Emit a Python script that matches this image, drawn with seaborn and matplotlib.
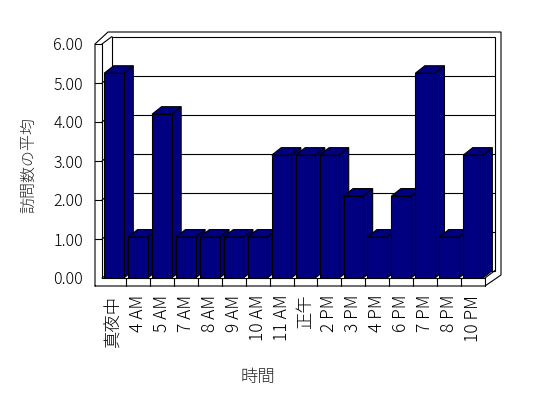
import matplotlib
matplotlib.use("Agg")
import matplotlib.pyplot as plt
import pandas as pd
import seaborn as sns
from matplotlib.patches import Polygon

# data
hours = ["真夜中", "4 AM", "5 AM", "7 AM", "8 AM", "9 AM", "10 AM", "11 AM",
         "正午", "2 PM", "3 PM", "4 PM", "6 PM", "7 PM", "8 PM", "10 PM"]
avg_visits = [5.25, 1.05, 4.2, 1.05, 1.05, 1.05, 1.05, 3.15,
              3.15, 3.15, 2.1, 1.05, 2.1, 5.25, 1.05, 3.15]
y_ticks = [0, 1, 2, 3, 4, 5, 6]

sns.set_theme(style="white")
plt.rcParams["font.family"] = ["Noto Sans CJK JP", "DejaVu Sans"]

NAVY = "#000080"
LW = 0.8
W, H = 548, 398

fig = plt.figure(figsize=(W / 100, H / 100), dpi=100)
fig.patch.set_facecolor("white")

# front plane of the 3d box, in pixels (top-left origin)
left, right, top, bottom = 102, 485, 44, 278
ax = fig.add_axes([left / W, 1 - bottom / H, (right - left) / W, (bottom - top) / H])

df = pd.DataFrame({"時間": hours, "訪問数の平均": avg_visits})
sns.barplot(data=df, x="時間", y="訪問数の平均", color=NAVY, saturation=1,
            edgecolor="black", linewidth=LW, width=0.82, ax=ax)

n = len(hours)
ymax = y_ticks[-1]
ax.set_xlim(-0.5, n - 0.5)
ax.set_ylim(0, ymax)
for s in ax.spines.values():
    s.set_visible(False)
ax.set_facecolor("none")

# pixel -> data helpers
ux = n / (right - left)
uy = ymax / (bottom - top)


def P(px, py):
    return (-0.5 + (px - left) * ux, (bottom - py) * uy)


dx, dy = 10 * ux, 7.5 * uy      # depth of the box
wall = 7 * ux                    # left wall thickness
floor = 8 * uy                   # floor thickness


def line(pts, z=1):
    xs, ys = zip(*pts)
    ax.plot(xs, ys, color="black", lw=LW, clip_on=False, zorder=z,
            solid_joinstyle="miter")


# box outline
outer = [(95, 286), (95, 44), (108, 32), (501, 32), (501, 275), (485, 286), (95, 286)]
line([P(*p) for p in outer], z=0.5)
line([P(95, 44), P(102, 44)])
line([P(102, 44), P(102, 278)])
line([(-0.5, ymax), (-0.5 + dx, ymax + dy)])
back = [(-0.5 + dx, dy), (n - 0.5 + dx, dy), (n - 0.5 + dx, ymax + dy),
        (-0.5 + dx, ymax + dy), (-0.5 + dx, dy)]
line(back)
line([(-0.5, 0), (n - 0.5, 0)])
line([(n - 0.5, 0), (n - 0.5, -floor)])
line([(n - 0.5, 0), (n - 0.5 + dx, dy)])
line([(-0.5, 0), (-0.5 + dx, dy)])

# grid on back and side wall, ticks on the wall front
for k in y_ticks[1:-1]:
    line([(-0.5 + dx, k + dy), (n - 0.5 + dx, k + dy)])
    line([(-0.5, k), (-0.5 + dx, k + dy)])
    line([(-0.5 - wall, k), (-0.5, k)])

# category dividers on the floor front
for j in range(1, n):
    line([(j - 0.5, 0), (j - 0.5, -floor)])

# 3d side and top faces of the bars
bdx, bdy = 9.5 * ux, 7.5 * uy
for i, bar in enumerate(ax.patches):
    x, w, h = bar.get_x(), bar.get_width(), bar.get_height()
    z = 3 + i * 0.01
    side = Polygon([(x + w, 0), (x + w + bdx, bdy), (x + w + bdx, h + bdy), (x + w, h)],
                   closed=True, fc=NAVY, ec="black", lw=LW, zorder=z, clip_on=False)
    cap = Polygon([(x, h), (x + bdx, h + bdy), (x + w + bdx, h + bdy), (x + w, h)],
                  closed=True, fc=NAVY, ec="black", lw=LW, zorder=z, clip_on=False)
    ax.add_patch(side)
    ax.add_patch(cap)
    bar.set_zorder(z + 0.005)

ax.set_yticks(y_ticks)
ax.set_yticklabels([f"{v:.2f}" for v in y_ticks])
ax.set_xticks(range(n))
ax.set_xticklabels(hours, rotation=90)
ax.tick_params(axis="y", length=0, pad=13.5, labelsize=11.5, colors="black")
ax.tick_params(axis="x", length=0, pad=12, labelsize=12.5, colors="black")
for lab in ax.get_xticklabels() + ax.get_yticklabels():
    lab.set_fontweight("light")
ax.set_xlabel("")
ax.set_ylabel("")

fig.text(258 / W, 1 - 377 / H, "時間", ha="center", va="center", fontsize=12.5,
         fontweight="light")
fig.text(29 / W, 1 - 165 / H, "訪問数の平均", ha="center", va="center",
         rotation=90, fontsize=11.5, fontweight="light")

fig.savefig("out.png", dpi=100)
